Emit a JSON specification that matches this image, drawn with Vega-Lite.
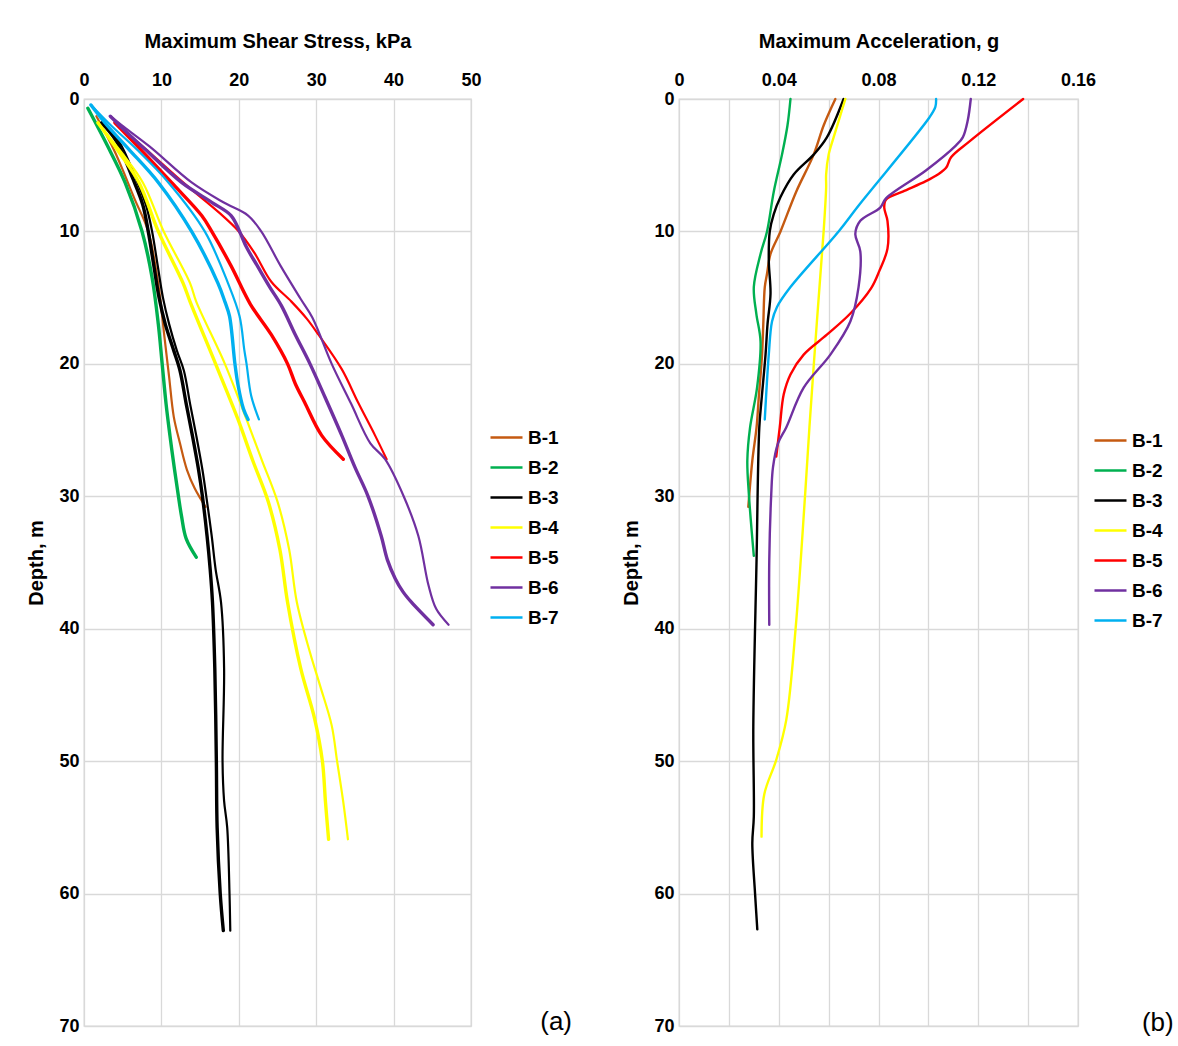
{
  "$schema": "https://vega.github.io/schema/vega-lite/v6.json",
  "padding": {"left": 26, "top": 30, "right": 0, "bottom": 0},
  "background": "white",
  "config": {
    "font": "Liberation Sans",
    "view": {"stroke": "#d9d9d9", "strokeWidth": 1.3},
    "axis": {
      "labelFont": "Liberation Sans", "labelFontSize": 18, "labelFontWeight": "bold", "labelColor": "#000",
      "titleFont": "Liberation Sans", "titleFontSize": 20, "titleFontWeight": "bold", "titleColor": "#000",
      "ticks": false, "domain": false, "gridColor": "#d9d9d9", "gridWidth": 1.3, "labelFlush": false
    },
    "legend": {
      "labelFont": "Liberation Sans", "labelFontSize": 19, "labelFontWeight": "bold", "labelColor": "#000",
      "symbolType": "stroke", "symbolSize": 1024, "symbolStrokeWidth": 2.5, "rowPadding": 2, "labelOffset": 4
    }
  },
  "datasets": {
    "a": [
      {"b":"B-1","r":"2","x":1.6,"d":1.3},{"b":"B-1","r":"2","x":4,"d":4},{"b":"B-1","r":"2","x":6.5,"d":7.5},{"b":"B-1","r":"2","x":8.3,"d":10},{"b":"B-1","r":"2","x":9.6,"d":14},{"b":"B-1","r":"2","x":10.4,"d":18},{"b":"B-1","r":"2","x":11,"d":21},{"b":"B-1","r":"2","x":11.6,"d":24},{"b":"B-1","r":"2","x":12.4,"d":26},{"b":"B-1","r":"2","x":13.3,"d":28},{"b":"B-1","r":"2","x":14.3,"d":29.4},{"b":"B-1","r":"2","x":15.7,"d":30.8},
      {"b":"B-2","r":"1","x":0.5,"d":0.7},{"b":"B-2","r":"1","x":3,"d":3.5},{"b":"B-2","r":"1","x":5.3,"d":6.3},{"b":"B-2","r":"1","x":7.5,"d":10},{"b":"B-2","r":"1","x":8.8,"d":13.5},{"b":"B-2","r":"1","x":9.6,"d":17},{"b":"B-2","r":"1","x":10.1,"d":20},{"b":"B-2","r":"1","x":10.6,"d":23},{"b":"B-2","r":"1","x":11.1,"d":25.4},{"b":"B-2","r":"1","x":11.7,"d":28},{"b":"B-2","r":"1","x":12.2,"d":30},{"b":"B-2","r":"1","x":12.6,"d":31.5},{"b":"B-2","r":"1","x":13.2,"d":33.2},{"b":"B-2","r":"1","x":14.5,"d":34.6},
      {"b":"B-3","r":"1","x":2.3,"d":1.8},{"b":"B-3","r":"1","x":4.2,"d":3.2},{"b":"B-3","r":"1","x":6.3,"d":6},{"b":"B-3","r":"1","x":7.6,"d":8},{"b":"B-3","r":"1","x":8.3,"d":10},{"b":"B-3","r":"1","x":9,"d":12.5},{"b":"B-3","r":"1","x":9.7,"d":15},{"b":"B-3","r":"1","x":10.5,"d":17},{"b":"B-3","r":"1","x":11.6,"d":19},{"b":"B-3","r":"1","x":12.4,"d":20.5},{"b":"B-3","r":"1","x":13.2,"d":23},{"b":"B-3","r":"1","x":14,"d":25.4},{"b":"B-3","r":"1","x":14.8,"d":28},{"b":"B-3","r":"1","x":15.3,"d":30},{"b":"B-3","r":"1","x":15.9,"d":33},{"b":"B-3","r":"1","x":16.3,"d":35.5},{"b":"B-3","r":"1","x":16.6,"d":38},{"b":"B-3","r":"1","x":16.9,"d":43},{"b":"B-3","r":"1","x":17.1,"d":50},{"b":"B-3","r":"1","x":17.2,"d":55},{"b":"B-3","r":"1","x":17.6,"d":60},{"b":"B-3","r":"1","x":18,"d":62.8},
      {"b":"B-3","r":"2","x":2.3,"d":1.8},{"b":"B-3","r":"2","x":4.5,"d":3.2},{"b":"B-3","r":"2","x":6.7,"d":6},{"b":"B-3","r":"2","x":8,"d":8},{"b":"B-3","r":"2","x":8.8,"d":10},{"b":"B-3","r":"2","x":9.5,"d":12.5},{"b":"B-3","r":"2","x":10.2,"d":15},{"b":"B-3","r":"2","x":11,"d":17},{"b":"B-3","r":"2","x":12,"d":19},{"b":"B-3","r":"2","x":12.9,"d":20.5},{"b":"B-3","r":"2","x":13.7,"d":23},{"b":"B-3","r":"2","x":14.5,"d":25.4},{"b":"B-3","r":"2","x":15.3,"d":28},{"b":"B-3","r":"2","x":15.8,"d":30},{"b":"B-3","r":"2","x":16.5,"d":33},{"b":"B-3","r":"2","x":17,"d":35.5},{"b":"B-3","r":"2","x":17.7,"d":38},{"b":"B-3","r":"2","x":18.1,"d":43},{"b":"B-3","r":"2","x":17.9,"d":50},{"b":"B-3","r":"2","x":18.1,"d":53},{"b":"B-3","r":"2","x":18.5,"d":55},{"b":"B-3","r":"2","x":18.8,"d":60},{"b":"B-3","r":"2","x":18.9,"d":62.8},
      {"b":"B-4","r":"1","x":1.8,"d":1.8},{"b":"B-4","r":"1","x":4.5,"d":4},{"b":"B-4","r":"1","x":7.1,"d":6.3},{"b":"B-4","r":"1","x":9.6,"d":10},{"b":"B-4","r":"1","x":12.8,"d":13.9},{"b":"B-4","r":"1","x":13.7,"d":15.3},{"b":"B-4","r":"1","x":17,"d":20},{"b":"B-4","r":"1","x":19.9,"d":24.2},{"b":"B-4","r":"1","x":21.8,"d":27.3},{"b":"B-4","r":"1","x":23.8,"d":30.4},{"b":"B-4","r":"1","x":25.3,"d":34},{"b":"B-4","r":"1","x":26.3,"d":38},{"b":"B-4","r":"1","x":28,"d":43},{"b":"B-4","r":"1","x":29.8,"d":46.8},{"b":"B-4","r":"1","x":30.8,"d":50},{"b":"B-4","r":"1","x":31.2,"d":53.1},{"b":"B-4","r":"1","x":31.6,"d":55.9},
      {"b":"B-4","r":"2","x":1.8,"d":1.8},{"b":"B-4","r":"2","x":4.8,"d":4},{"b":"B-4","r":"2","x":7.6,"d":6.3},{"b":"B-4","r":"2","x":10.3,"d":10},{"b":"B-4","r":"2","x":13.7,"d":13.9},{"b":"B-4","r":"2","x":14.5,"d":15.3},{"b":"B-4","r":"2","x":18.2,"d":20},{"b":"B-4","r":"2","x":21,"d":24.2},{"b":"B-4","r":"2","x":23,"d":27.3},{"b":"B-4","r":"2","x":25,"d":30.4},{"b":"B-4","r":"2","x":26.5,"d":34},{"b":"B-4","r":"2","x":27.5,"d":38},{"b":"B-4","r":"2","x":29.2,"d":41.8},{"b":"B-4","r":"2","x":30.5,"d":44.3},{"b":"B-4","r":"2","x":32,"d":47.3},{"b":"B-4","r":"2","x":32.7,"d":50},{"b":"B-4","r":"2","x":33.5,"d":53.1},{"b":"B-4","r":"2","x":34.1,"d":55.9},
      {"b":"B-5","r":"1","x":4,"d":1.8},{"b":"B-5","r":"1","x":7.3,"d":3.8},{"b":"B-5","r":"1","x":11.3,"d":6.3},{"b":"B-5","r":"1","x":15.2,"d":8.8},{"b":"B-5","r":"1","x":16.5,"d":10},{"b":"B-5","r":"1","x":19,"d":12.6},{"b":"B-5","r":"1","x":21.5,"d":15.5},{"b":"B-5","r":"1","x":24.2,"d":17.8},{"b":"B-5","r":"1","x":26.3,"d":20},{"b":"B-5","r":"1","x":27.3,"d":21.5},{"b":"B-5","r":"1","x":28.5,"d":22.9},{"b":"B-5","r":"1","x":30.7,"d":25.4},{"b":"B-5","r":"1","x":33.5,"d":27.2},
      {"b":"B-5","r":"2","x":4,"d":1.8},{"b":"B-5","r":"2","x":8,"d":3.8},{"b":"B-5","r":"2","x":12.8,"d":6.3},{"b":"B-5","r":"2","x":17.5,"d":8.6},{"b":"B-5","r":"2","x":20,"d":10},{"b":"B-5","r":"2","x":22,"d":11.6},{"b":"B-5","r":"2","x":24.2,"d":13.8},{"b":"B-5","r":"2","x":26.8,"d":15.3},{"b":"B-5","r":"2","x":28.8,"d":16.6},{"b":"B-5","r":"2","x":30.3,"d":17.8},{"b":"B-5","r":"2","x":33.3,"d":20.4},{"b":"B-5","r":"2","x":35.4,"d":22.9},{"b":"B-5","r":"2","x":37.6,"d":25.4},{"b":"B-5","r":"2","x":39.1,"d":27.2},
      {"b":"B-6","r":"1","x":3.4,"d":1.3},{"b":"B-6","r":"1","x":5.5,"d":2.5},{"b":"B-6","r":"1","x":7.9,"d":3.8},{"b":"B-6","r":"1","x":12.6,"d":6.3},{"b":"B-6","r":"1","x":16.5,"d":7.8},{"b":"B-6","r":"1","x":19,"d":8.8},{"b":"B-6","r":"1","x":20.1,"d":10},{"b":"B-6","r":"1","x":21,"d":11.2},{"b":"B-6","r":"1","x":22.4,"d":12.6},{"b":"B-6","r":"1","x":24,"d":14.2},{"b":"B-6","r":"1","x":25.5,"d":15.6},{"b":"B-6","r":"1","x":27.3,"d":17.8},{"b":"B-6","r":"1","x":29.2,"d":20},{"b":"B-6","r":"1","x":31.2,"d":22.6},{"b":"B-6","r":"1","x":33.3,"d":25.4},{"b":"B-6","r":"1","x":35,"d":27.8},{"b":"B-6","r":"1","x":36.7,"d":30},{"b":"B-6","r":"1","x":38.4,"d":33},{"b":"B-6","r":"1","x":39.2,"d":34.8},{"b":"B-6","r":"1","x":40.2,"d":36.2},{"b":"B-6","r":"1","x":41.2,"d":37.2},{"b":"B-6","r":"1","x":42.3,"d":38},{"b":"B-6","r":"1","x":45.1,"d":39.7},
      {"b":"B-6","r":"2","x":3.4,"d":1.3},{"b":"B-6","r":"2","x":4.9,"d":2},{"b":"B-6","r":"2","x":8.5,"d":3.6},{"b":"B-6","r":"2","x":13.9,"d":6.3},{"b":"B-6","r":"2","x":18,"d":7.8},{"b":"B-6","r":"2","x":21.2,"d":8.8},{"b":"B-6","r":"2","x":22.9,"d":10},{"b":"B-6","r":"2","x":25.4,"d":12.6},{"b":"B-6","r":"2","x":28,"d":15.1},{"b":"B-6","r":"2","x":29.5,"d":16.5},{"b":"B-6","r":"2","x":32,"d":20},{"b":"B-6","r":"2","x":34.5,"d":23},{"b":"B-6","r":"2","x":37,"d":26},{"b":"B-6","r":"2","x":38.9,"d":27.2},{"b":"B-6","r":"2","x":41.3,"d":30},{"b":"B-6","r":"2","x":43.2,"d":33},{"b":"B-6","r":"2","x":44.5,"d":36.7},{"b":"B-6","r":"2","x":45.5,"d":38.5},{"b":"B-6","r":"2","x":47.1,"d":39.7},
      {"b":"B-7","r":"1","x":0.9,"d":0.45},{"b":"B-7","r":"1","x":3,"d":2},{"b":"B-7","r":"1","x":5.8,"d":3.8},{"b":"B-7","r":"1","x":9.6,"d":6.3},{"b":"B-7","r":"1","x":13.9,"d":10},{"b":"B-7","r":"1","x":17.3,"d":13.9},{"b":"B-7","r":"1","x":18.2,"d":15.3},{"b":"B-7","r":"1","x":18.8,"d":16.4},{"b":"B-7","r":"1","x":19.5,"d":20},{"b":"B-7","r":"1","x":19.9,"d":21.6},{"b":"B-7","r":"1","x":20.6,"d":23.4},{"b":"B-7","r":"1","x":21.2,"d":24.2},
      {"b":"B-7","r":"2","x":0.9,"d":0.45},{"b":"B-7","r":"2","x":3.5,"d":2},{"b":"B-7","r":"2","x":6.8,"d":3.8},{"b":"B-7","r":"2","x":10.9,"d":6.3},{"b":"B-7","r":"2","x":15.6,"d":10},{"b":"B-7","r":"2","x":18.6,"d":13.9},{"b":"B-7","r":"2","x":20.1,"d":16.4},{"b":"B-7","r":"2","x":20.7,"d":18.9},{"b":"B-7","r":"2","x":21,"d":20},{"b":"B-7","r":"2","x":21.6,"d":22.4},{"b":"B-7","r":"2","x":22.6,"d":24.2}
    ],
    "b": [
      {"b":"B-1","x":0.0627,"d":0},{"b":"B-1","x":0.058,"d":2},{"b":"B-1","x":0.054,"d":4.2},{"b":"B-1","x":0.047,"d":7},{"b":"B-1","x":0.0407,"d":10},{"b":"B-1","x":0.0367,"d":11.7},{"b":"B-1","x":0.0353,"d":13.2},{"b":"B-1","x":0.0344,"d":14.2},{"b":"B-1","x":0.0338,"d":17},{"b":"B-1","x":0.0333,"d":19.3},{"b":"B-1","x":0.032,"d":22.5},{"b":"B-1","x":0.0311,"d":24.8},{"b":"B-1","x":0.0294,"d":27.3},{"b":"B-1","x":0.0278,"d":30.8},
      {"b":"B-2","x":0.0447,"d":0},{"b":"B-2","x":0.0435,"d":2},{"b":"B-2","x":0.0413,"d":4.2},{"b":"B-2","x":0.038,"d":7},{"b":"B-2","x":0.0353,"d":10},{"b":"B-2","x":0.0327,"d":11.7},{"b":"B-2","x":0.03,"d":14.2},{"b":"B-2","x":0.031,"d":16.2},{"b":"B-2","x":0.0327,"d":18.3},{"b":"B-2","x":0.0313,"d":21.8},{"b":"B-2","x":0.0285,"d":24.8},{"b":"B-2","x":0.0274,"d":27.3},{"b":"B-2","x":0.028,"d":29.8},{"b":"B-2","x":0.03,"d":34.5},
      {"b":"B-3","x":0.066,"d":0},{"b":"B-3","x":0.0593,"d":2.9},{"b":"B-3","x":0.054,"d":4.2},{"b":"B-3","x":0.046,"d":5.7},{"b":"B-3","x":0.0407,"d":7.4},{"b":"B-3","x":0.038,"d":8.7},{"b":"B-3","x":0.0364,"d":10},{"b":"B-3","x":0.036,"d":12.2},{"b":"B-3","x":0.0367,"d":14.7},{"b":"B-3","x":0.0355,"d":17},{"b":"B-3","x":0.0347,"d":19.3},{"b":"B-3","x":0.0332,"d":22.5},{"b":"B-3","x":0.0322,"d":24.8},{"b":"B-3","x":0.0311,"d":34.8},{"b":"B-3","x":0.0298,"d":47.4},{"b":"B-3","x":0.03,"d":54.2},{"b":"B-3","x":0.0294,"d":56.2},{"b":"B-3","x":0.0305,"d":60},{"b":"B-3","x":0.0314,"d":62.7},
      {"b":"B-4","x":0.0667,"d":0},{"b":"B-4","x":0.062,"d":2.9},{"b":"B-4","x":0.06,"d":4.2},{"b":"B-4","x":0.059,"d":5.7},{"b":"B-4","x":0.059,"d":6.7},{"b":"B-4","x":0.058,"d":10},{"b":"B-4","x":0.0553,"d":16.8},{"b":"B-4","x":0.0523,"d":24.8},{"b":"B-4","x":0.0506,"d":29.8},{"b":"B-4","x":0.0468,"d":39.9},{"b":"B-4","x":0.043,"d":46.9},{"b":"B-4","x":0.039,"d":49.9},{"b":"B-4","x":0.0342,"d":52.5},{"b":"B-4","x":0.0331,"d":55.7},
      {"b":"B-5","x":0.138,"d":0},{"b":"B-5","x":0.1165,"d":3.2},{"b":"B-5","x":0.1091,"d":4.4},{"b":"B-5","x":0.1071,"d":5.2},{"b":"B-5","x":0.1038,"d":5.7},{"b":"B-5","x":0.099,"d":6.2},{"b":"B-5","x":0.0897,"d":7},{"b":"B-5","x":0.083,"d":7.6},{"b":"B-5","x":0.0823,"d":8.2},{"b":"B-5","x":0.0836,"d":9.2},{"b":"B-5","x":0.0836,"d":11.3},{"b":"B-5","x":0.0803,"d":13},{"b":"B-5","x":0.077,"d":14.3},{"b":"B-5","x":0.0687,"d":16.2},{"b":"B-5","x":0.0593,"d":17.8},{"b":"B-5","x":0.05,"d":19.3},{"b":"B-5","x":0.0447,"d":20.8},{"b":"B-5","x":0.042,"d":22.3},{"b":"B-5","x":0.0404,"d":24.8},{"b":"B-5","x":0.039,"d":27},
      {"b":"B-6","x":0.117,"d":0},{"b":"B-6","x":0.1158,"d":1.6},{"b":"B-6","x":0.1138,"d":2.9},{"b":"B-6","x":0.1111,"d":3.5},{"b":"B-6","x":0.099,"d":5.4},{"b":"B-6","x":0.083,"d":7.5},{"b":"B-6","x":0.0807,"d":8.2},{"b":"B-6","x":0.0727,"d":9.2},{"b":"B-6","x":0.0707,"d":10.2},{"b":"B-6","x":0.0727,"d":11.5},{"b":"B-6","x":0.072,"d":14.2},{"b":"B-6","x":0.0687,"d":16.8},{"b":"B-6","x":0.0607,"d":19.3},{"b":"B-6","x":0.05,"d":21.8},{"b":"B-6","x":0.043,"d":24.8},{"b":"B-6","x":0.0397,"d":26},{"b":"B-6","x":0.0377,"d":27.8},{"b":"B-6","x":0.037,"d":29.8},{"b":"B-6","x":0.0362,"d":34.8},{"b":"B-6","x":0.0362,"d":39.7},
      {"b":"B-7","x":0.1031,"d":0},{"b":"B-7","x":0.1028,"d":0.6},{"b":"B-7","x":0.1004,"d":1.4},{"b":"B-7","x":0.0722,"d":8},{"b":"B-7","x":0.064,"d":10},{"b":"B-7","x":0.0447,"d":14.2},{"b":"B-7","x":0.0393,"d":15.7},{"b":"B-7","x":0.0373,"d":16.8},{"b":"B-7","x":0.036,"d":19.3},{"b":"B-7","x":0.0344,"d":24.2}
    ]
  },
  "spacing": 48,
  "resolve": {"legend": {"color": "independent"}},
  "hconcat": [
    {
      "width": 387, "height": 927,
      "layer": [
        {
          "data": {"name": "a"},
          "mark": {"type": "line", "interpolate": "catmull-rom", "strokeCap": "round"},
          "encoding": {
            "x": {"field": "x", "type": "quantitative", "title": "Maximum Shear Stress, kPa",
              "scale": {"domain": [0, 50], "nice": false, "zero": false},
              "axis": {"orient": "top", "values": [0, 10, 20, 30, 40, 50], "labelPadding": 10, "titlePadding": 20}},
            "y": {"field": "d", "type": "quantitative", "title": "Depth, m",
              "scale": {"domain": [0, 70], "reverse": true, "nice": false},
              "axis": {"values": [0, 10, 20, 30, 40, 50, 60, 70], "labelPadding": 5, "titlePadding": 12}},
            "color": {"field": "b", "type": "nominal",
              "scale": {"domain": ["B-1", "B-2", "B-3", "B-4", "B-5", "B-6", "B-7"],
                "range": ["#C55A11", "#00B050", "#000000", "#FFFF00", "#FF0000", "#7030A0", "#00B0F0"]},
              "legend": {"title": null, "orient": "none", "legendX": 405, "legendY": 321}},
            "detail": {"field": "r", "type": "nominal"},
            "strokeWidth": {"field": "r", "type": "nominal", "scale": {"domain": ["1", "2"], "range": [3.4, 2.2]}, "legend": null},
            "order": {"field": "d", "type": "quantitative"}
          }
        },
        {
          "data": {"values": [{"t": "(a)", "x": 61, "d": 70.3}]},
          "mark": {"type": "text", "fontSize": 26, "font": "Liberation Sans", "align": "center", "baseline": "alphabetic", "color": "#000"},
          "encoding": {
            "x": {"field": "x", "type": "quantitative", "title": "Maximum Shear Stress, kPa"},
            "y": {"field": "d", "type": "quantitative", "title": "Depth, m"},
            "text": {"field": "t", "type": "nominal"}
          }
        }
      ]
    },
    {
      "width": 399, "height": 927,
      "layer": [
        {
          "data": {"name": "b"},
          "mark": {"type": "line", "interpolate": "catmull-rom", "strokeWidth": 2.4, "strokeCap": "round"},
          "encoding": {
            "x": {"field": "x", "type": "quantitative", "title": "Maximum Acceleration, g",
              "scale": {"domain": [0, 0.16], "nice": false, "zero": false},
              "axis": {"orient": "top", "values": [0, 0.02, 0.04, 0.06, 0.08, 0.1, 0.12, 0.14, 0.16], "format": ".2~f",
                "labelExpr": "round(datum.value*100) % 4 == 0 ? datum.label : ''", "labelPadding": 10, "titlePadding": 20}},
            "y": {"field": "d", "type": "quantitative", "title": "Depth, m",
              "scale": {"domain": [0, 70], "reverse": true, "nice": false},
              "axis": {"values": [0, 10, 20, 30, 40, 50, 60, 70], "labelPadding": 5, "titlePadding": 12}},
            "color": {"field": "b", "type": "nominal",
              "scale": {"domain": ["B-1", "B-2", "B-3", "B-4", "B-5", "B-6", "B-7"],
                "range": ["#C55A11", "#00B050", "#000000", "#FFFF00", "#FF0000", "#7030A0", "#00B0F0"]},
              "legend": {"title": null, "orient": "none", "legendX": 414, "legendY": 324}},
            "order": {"field": "d", "type": "quantitative"}
          }
        },
        {
          "data": {"values": [{"t": "(b)", "x": 0.192, "d": 70.4}]},
          "mark": {"type": "text", "fontSize": 26, "font": "Liberation Sans", "align": "center", "baseline": "alphabetic", "color": "#000"},
          "encoding": {
            "x": {"field": "x", "type": "quantitative", "title": "Maximum Acceleration, g"},
            "y": {"field": "d", "type": "quantitative", "title": "Depth, m"},
            "text": {"field": "t", "type": "nominal"}
          }
        }
      ]
    }
  ]
}
